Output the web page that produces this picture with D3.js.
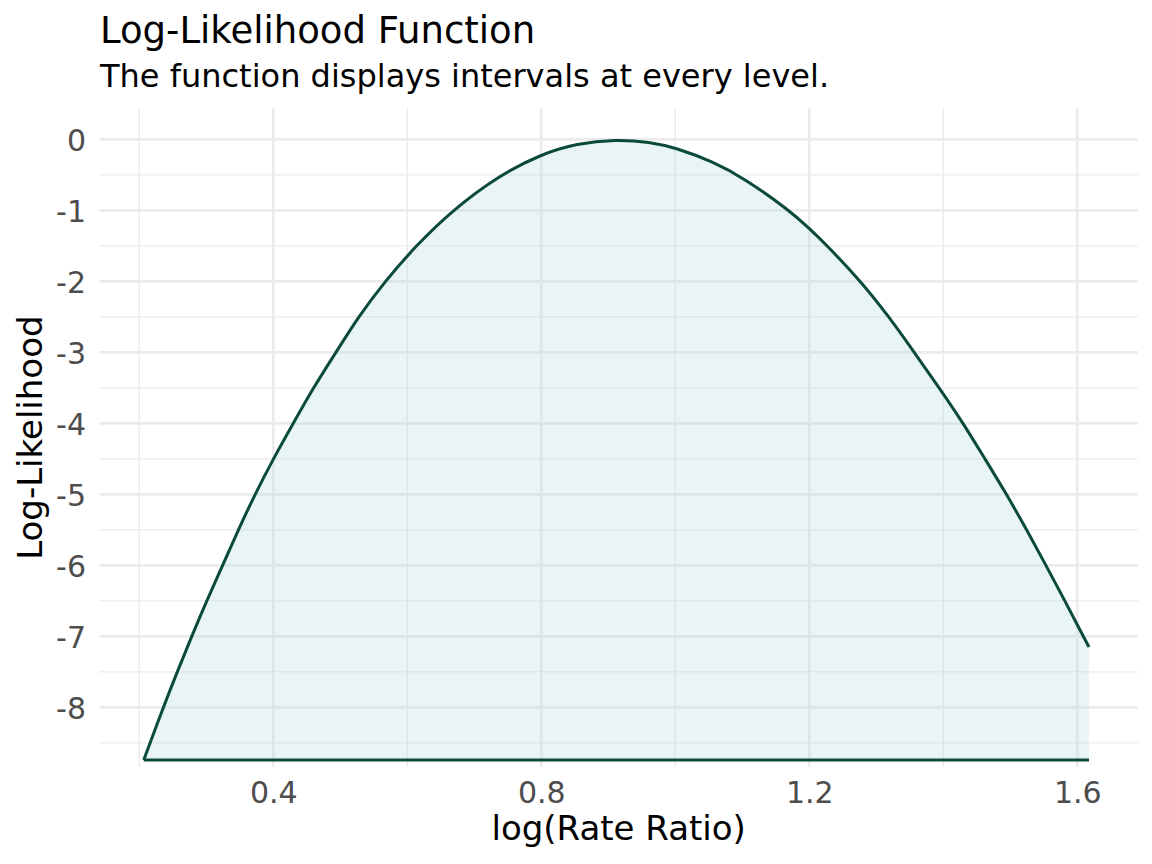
<!DOCTYPE html>
<html>
<head>
<meta charset="utf-8">
<script src="https://cdn.jsdelivr.net/npm/d3@7"></script>
<style>
  html, body { margin: 0; padding: 0; background: #ffffff; }
  svg { display: block; font-family: "DejaVu Sans", sans-serif; }
</style>
</head>
<body>
<svg id="chart" width="1152" height="864"></svg>
<script>
// ---- data ----
const logRateRatio = [0.2067, 0.2358, 0.2567, 0.2782, 0.3006, 0.3245, 0.3478, 0.3727, 0.4, 0.4299,
  0.4597, 0.4936, 0.5269, 0.5667, 0.6128, 0.6671, 0.7384, 0.8006, 0.8528, 0.911,
  0.9622, 1.0, 1.0567, 1.104, 1.17, 1.2, 1.226, 1.278, 1.319, 1.3567,
  1.394, 1.4299, 1.4622, 1.4946, 1.5245, 1.5533, 1.5816, 1.609, 1.6175];
const logLikelihood = [-8.742, -8, -7.5, -7, -6.5, -6, -5.5, -5, -4.5, -4,
  -3.5, -3, -2.5, -2, -1.5, -1, -0.5, -0.207, -0.059, 0,
  -0.038, -0.117, -0.316, -0.555, -1, -1.253, -1.49, -2.01, -2.5, -3,
  -3.5, -4, -4.5, -5, -5.5, -6, -6.5, -7, -7.15];
const xMajorTicks = [0.4, 0.8, 1.2, 1.6];
const xMinorTicks = [0.2, 0.6, 1.0, 1.4];
const yMajorTicks = [0, -1, -2, -3, -4, -5, -6, -7, -8];
const yMinorTicks = [-0.5, -1.5, -2.5, -3.5, -4.5, -5.5, -6.5, -7.5, -8.5];
const titleText = "Log-Likelihood Function";
const subtitleText = "The function displays intervals at every level.";
const xTitle = "log(Rate Ratio)";
const yTitle = "Log-Likelihood";

const points = logRateRatio.map((x, i) => ({ x, y: logLikelihood[i] }));
const yBase = d3.min(logLikelihood);

// ---- layout ----
const panel = { left: 99.4, right: 1137.9, top: 108.3, bottom: 767 };
const x = d3.scaleLinear().domain([0.1405, 1.6905]).range([panel.left, panel.right]);
const y = d3.scaleLinear().domain([0.437, -8.84]).range([panel.top, panel.bottom]);

const svg = d3.select("#chart");
svg.append("rect").attr("width", 1152).attr("height", 864).attr("fill", "#ffffff");

const grid = svg.append("g");
// minor gridlines
grid.selectAll("line.yminor").data(yMinorTicks).join("line")
  .attr("x1", panel.left).attr("x2", panel.right)
  .attr("y1", d => y(d)).attr("y2", d => y(d))
  .attr("stroke", "#ebebeb").attr("stroke-width", 1.4);
grid.selectAll("line.xminor").data(xMinorTicks).join("line")
  .attr("y1", panel.top).attr("y2", panel.bottom)
  .attr("x1", d => x(d)).attr("x2", d => x(d))
  .attr("stroke", "#ebebeb").attr("stroke-width", 1.4);
// major gridlines
grid.selectAll("line.ymajor").data(yMajorTicks).join("line")
  .attr("x1", panel.left).attr("x2", panel.right)
  .attr("y1", d => y(d)).attr("y2", d => y(d))
  .attr("stroke", "#ebebeb").attr("stroke-width", 2.6);
grid.selectAll("line.xmajor").data(xMajorTicks).join("line")
  .attr("y1", panel.top).attr("y2", panel.bottom)
  .attr("x1", d => x(d)).attr("x2", d => x(d))
  .attr("stroke", "#ebebeb").attr("stroke-width", 2.6);

// ribbon
const curve = d3.curveBasis;
const area = d3.area().x(d => x(d.x)).y0(y(yBase)).y1(d => y(d.y)).curve(curve);
svg.append("path").datum(points).attr("d", area)
  .attr("fill", "#b2dfdb").attr("fill-opacity", 0.3);

const line = d3.line().x(d => x(d.x)).y(d => y(d.y)).curve(curve);
svg.append("path").datum(points).attr("d", line)
  .attr("fill", "none").attr("stroke", "#0a4a3a").attr("stroke-width", 3);
const baseLine = [{ x: logRateRatio[0], y: yBase }, { x: logRateRatio[logRateRatio.length - 1], y: yBase }];
svg.append("path").datum(baseLine).attr("d", d3.line().x(d => x(d.x)).y(d => y(d.y)))
  .attr("fill", "none").attr("stroke", "#0a4a3a").attr("stroke-width", 3);

// axes (text only, theme_minimal)
const xAxis = d3.axisBottom(x).tickValues(xMajorTicks).tickFormat(d3.format(".1f")).tickSize(0).tickPadding(0);
const gx = svg.append("g").attr("transform", "translate(0,803)").call(xAxis);
gx.select(".domain").remove();
gx.selectAll("text").attr("dy", null).attr("y", 0)
  .attr("font-size", 30).attr("fill", "#4d4d4d").attr("font-family", "DejaVu Sans");

const yAxis = d3.axisLeft(y).tickValues(yMajorTicks).tickFormat(d => String(d)).tickSize(0).tickPadding(0);
const gy = svg.append("g").attr("transform", "translate(86,0)").call(yAxis);
gy.select(".domain").remove();
gy.selectAll("text").attr("dy", null).attr("x", 0).attr("y", 10.8)
  .attr("font-size", 30).attr("fill", "#4d4d4d").attr("font-family", "DejaVu Sans");

// titles
svg.append("text").attr("x", 100).attr("y", 43).attr("font-size", 37).attr("fill", "#000").text(titleText);
svg.append("text").attr("x", 100).attr("y", 87).attr("font-size", 32).attr("fill", "#000").text(subtitleText);
svg.append("text").attr("x", (panel.left + panel.right) / 2).attr("y", 840).attr("text-anchor", "middle")
  .attr("font-size", 34).attr("fill", "#000").text(xTitle);
svg.append("text").attr("transform", `translate(41.5,${(panel.top + panel.bottom) / 2}) rotate(-90)`)
  .attr("text-anchor", "middle").attr("font-size", 34).attr("fill", "#000").text(yTitle);
</script>
</body>
</html>
